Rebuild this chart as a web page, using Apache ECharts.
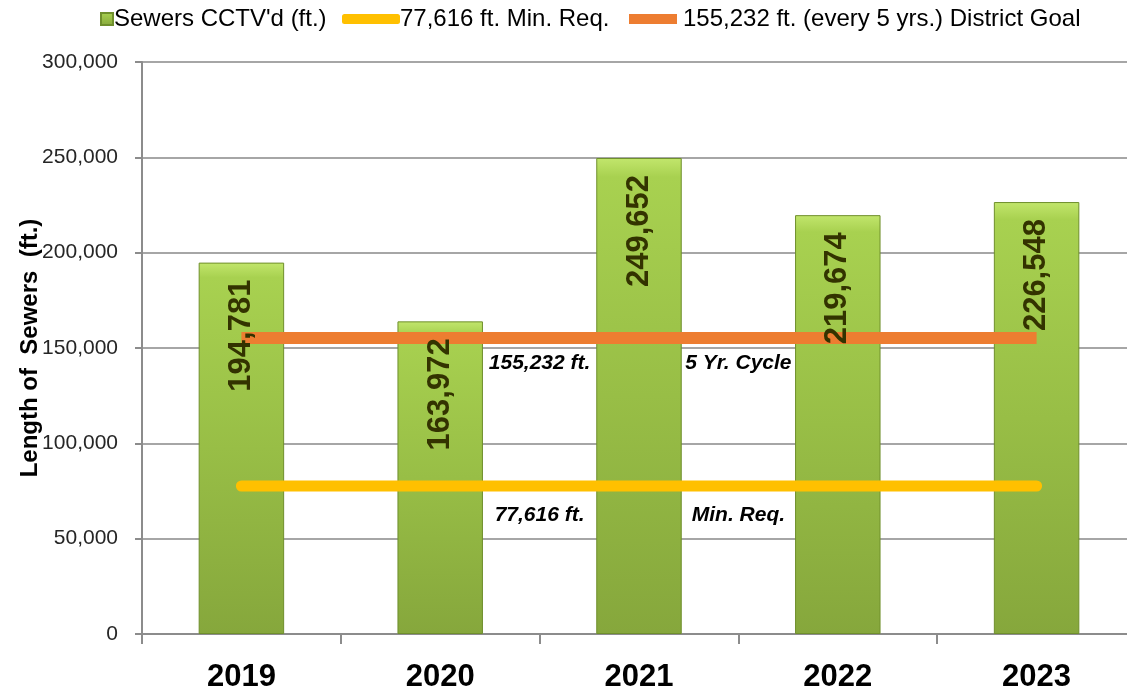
<!DOCTYPE html>
<html>
<head>
<meta charset="utf-8">
<script src="https://cdn.jsdelivr.net/npm/echarts@6/dist/echarts.min.js"></script>
<style>
  html, body { margin: 0; padding: 0; background: #fff; }
  #chart { width: 1127px; height: 695px; }
</style>
</head>
<body>
<div id="chart"></div>
<script>
// data
const years = ['2019', '2020', '2021', '2022', '2023']
const sewersCctvd = [194781, 163972, 249652, 219674, 226548]
const minReq = 77616
const districtGoal = 155232
const yTicks = { min: 0, max: 300000, step: 50000 }
const legendNames = ["Sewers CCTV'd (ft.)", '77,616 ft. Min. Req.', '155,232 ft. (every 5 yrs.) District Goal']
// notes under the lines, placed on category boundaries (2 = between 2020/2021, 3 = between 2021/2022)
const noteX = [2, 3]
const goalNotes = ['155,232 ft.', '5 Yr. Cycle']
const minNotes = ['77,616 ft.', 'Min. Req.']

const font = 'Liberation Sans'
const chart = echarts.init(document.getElementById('chart'))

const noteLabel = (dist) => ({
  show: true,
  position: 'bottom',
  distance: dist,
  formatter: p => p.data[2],
  color: '#000000',
  fontFamily: font,
  fontSize: 21,
  fontWeight: 'bold',
  fontStyle: 'italic'
})

const legendText = { fontFamily: font, fontSize: 24, color: '#000' }

const option = {
  animation: false,
  legend: [
    {
      data: [legendNames[0]], left: 95, top: 2, icon: 'rect',
      itemWidth: 12, itemHeight: 12, itemGap: 0,
      textStyle: Object.assign({ padding: [0, 0, 0, -4] }, legendText)
    },
    {
      data: [legendNames[1]], left: 337, top: 2, icon: 'roundRect',
      itemWidth: 58, itemHeight: 10, itemGap: 0,
      textStyle: Object.assign({ padding: [0, 0, 0, -5] }, legendText)
    },
    {
      data: [legendNames[2]], left: 624, top: 2, icon: 'rect',
      itemWidth: 48, itemHeight: 10, itemGap: 0,
      textStyle: Object.assign({ padding: [0, 0, 0, 1] }, legendText)
    }
  ],
  grid: { left: 142, width: 994, top: 62, bottom: 61, outerBoundsMode: 'none' },
  xAxis: [
    {
      type: 'category',
      data: years,
      boundaryGap: true,
      axisLine: { lineStyle: { color: '#8c8c8c', width: 2 } },
      axisTick: { show: true, length: 10, lineStyle: { color: '#8c8c8c', width: 2 } },
      axisLabel: { margin: 28, color: '#000', fontFamily: font, fontSize: 31, fontWeight: 'bold' }
    },
    { type: 'value', min: 0, max: 5, show: false }
  ],
  yAxis: {
    type: 'value',
    min: yTicks.min,
    max: yTicks.max,
    interval: yTicks.step,
    name: 'Length of  Sewers  (ft.)',
    nameLocation: 'middle',
    nameGap: 100,
    nameMoveOverlap: false,
    nameRotate: 90,
    nameTextStyle: { fontFamily: font, fontSize: 24, fontWeight: 'bold', color: '#000' },
    axisLine: { show: true, lineStyle: { color: '#8c8c8c', width: 2 } },
    axisTick: { show: true, length: 7, lineStyle: { color: '#8c8c8c', width: 2 } },
    axisLabel: {
      margin: 24,
      color: '#262626',
      fontFamily: font,
      fontSize: 21,
      formatter: v => v.toLocaleString('en-US')
    },
    splitLine: { lineStyle: { color: '#a6a6a6', width: 2 } }
  },
  series: [
    {
      name: legendNames[0],
      type: 'bar',
      data: sewersCctvd,
      barWidth: '43%',
      z: 2,
      itemStyle: {
        color: new echarts.graphic.LinearGradient(0, 0, 0, 1, [
          { offset: 0, color: '#c2e66c' },
          { offset: 0.04, color: '#a8d150' },
          { offset: 0.5, color: '#98be46' },
          { offset: 1, color: '#86a73c' }
        ]),
        borderColor: '#6f8f2c',
        borderWidth: 1
      }
    },
    {
      name: legendNames[1],
      type: 'line',
      data: years.map(() => minReq),
      symbol: 'none',
      z: 3,
      color: '#ffc000',
      lineStyle: { color: '#ffc000', width: 11, cap: 'round' }
    },
    {
      name: legendNames[2],
      type: 'line',
      data: years.map(() => districtGoal),
      symbol: 'none',
      z: 3,
      color: '#ed7d31',
      lineStyle: { color: '#ed7d31', width: 12, cap: 'butt' }
    },
    {
      // same bars again, transparent, only to carry the value labels above the lines
      type: 'bar',
      data: sewersCctvd,
      barWidth: '43%',
      barGap: '-100%',
      z: 5,
      silent: true,
      itemStyle: { color: 'rgba(0,0,0,0)' },
      label: {
        show: true,
        position: 'insideTop',
        rotate: 90,
        align: 'right',
        verticalAlign: 'middle',
        distance: 17,
        color: '#333300',
        fontFamily: font,
        fontSize: 31,
        fontWeight: 'bold',
        formatter: p => p.value.toLocaleString('en-US')
      }
    },
    {
      type: 'scatter',
      xAxisIndex: 1,
      symbolSize: 1,
      itemStyle: { color: 'rgba(255,255,255,0)', opacity: 1 },
      data: noteX.map((x, i) => [x, districtGoal, goalNotes[i]]),
      label: noteLabel(14),
      z: 4
    },
    {
      type: 'scatter',
      xAxisIndex: 1,
      symbolSize: 1,
      itemStyle: { color: 'rgba(255,255,255,0)', opacity: 1 },
      data: noteX.map((x, i) => [x, minReq, minNotes[i]]),
      label: noteLabel(18),
      z: 4
    }
  ]
}

chart.setOption(option)
</script>
</body>
</html>
